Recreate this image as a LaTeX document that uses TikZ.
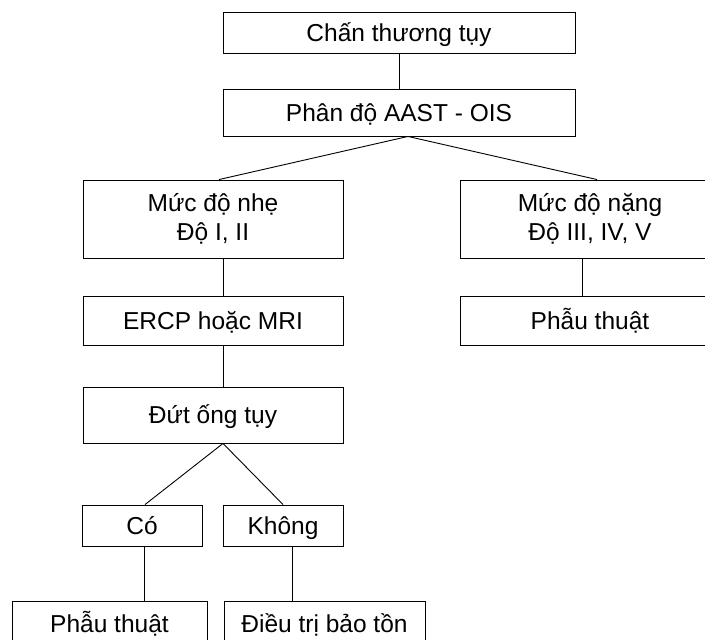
\documentclass[tikz,border=0pt]{standalone}
\usepackage{fontspec}
\setmainfont{Liberation Sans}
\begin{document}
\begin{tikzpicture}
        [
            x=1pt, y=-1pt,
            every node/.style={draw, rectangle, align=center, inner sep=0pt, line width=0.9pt, font=\fontsize{24.5}{29.5}\selectfont},
            oneline/.style={text height=17.5pt, text depth=0pt},
            widebox/.style={oneline, minimum width=352pt},
            midbox/.style={minimum width=260pt},
            smallbox/.style={oneline, minimum width=120pt, minimum height=41pt},
            endbox/.style={oneline, minimum height=45pt},
            link/.style={draw, line width=0.9pt}
        ]

        \useasboundingbox (0,0) rectangle (705,640);
        \clip (0,0) rectangle (705,640);

        \node[widebox, minimum height=41pt] (injury) at (399,32.5) {Chấn thương tụy};
        \node[widebox, minimum height=47pt] (grade) at (399,112.5) {Phân độ AAST - OIS};
        \node[midbox, minimum height=78pt] (mild) at (213,219) {Mức độ nhẹ\\Độ I, II};
        \node[midbox, minimum height=78pt] (severe) at (590,219) {Mức độ nặng\\Độ III, IV, V};
        \node[midbox, oneline, minimum height=49pt] (imaging) at (213,320.5) {ERCP hoặc MRI};
        \node[midbox, oneline, minimum height=49pt] (surgeryR) at (590,320.5) {Phẫu thuật};
        \node[midbox, oneline, minimum height=56pt] (duct) at (213,415) {Đứt ống tụy};
        \node[smallbox] (yes) at (142,525.5) {Có};
        \node[smallbox] (no) at (283,525.5) {Không};
        \node[endbox, minimum width=195pt] (surgeryL) at (109.5,623.5) {Phẫu thuật};
        \node[endbox, minimum width=201pt] (conserve) at (324.5,623.5) {Điều trị bảo tồn};

        \draw[link] (injury) -- (grade);
        \draw[link] ([xshift=9pt]grade.south) -- ([xshift=6pt]mild.north);
        \draw[link] ([xshift=9pt]grade.south) -- ([xshift=7pt]severe.north);
        \draw[link] ([xshift=10pt]mild.south) -- ([xshift=10pt]mild.south |- imaging.north);
        \draw[link] ([xshift=-8pt]severe.south) -- ([xshift=-8pt]severe.south |- surgeryR.north);
        \draw[link] ([xshift=10pt]imaging.south) -- ([xshift=10pt]imaging.south |- duct.north);
        \draw[link] ([xshift=10pt]duct.south) -- ([xshift=3pt]yes.north);
        \draw[link] ([xshift=10pt]duct.south) -- (no.north);
        \draw[link] ([xshift=2pt]yes.south) -- ([xshift=2pt]yes.south |- surgeryL.north);
        \draw[link] ([xshift=9pt]no.south) -- ([xshift=9pt]no.south |- conserve.north);
    \end{tikzpicture}
\end{document}
